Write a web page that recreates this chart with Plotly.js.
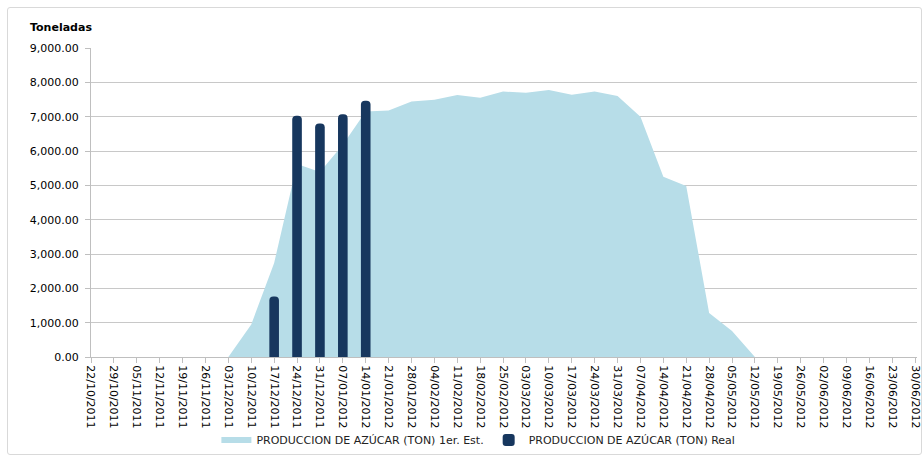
<!DOCTYPE html>
<html>
<head>
<meta charset="utf-8">
<script src="https://cdn.plot.ly/plotly-3.0.1.min.js"></script>
<style>
  html, body { margin: 0; padding: 0; background: #fff; }
  #wrap { position: relative; width: 924px; height: 457px; }
  #chart { width: 924px; height: 457px; }
  #frame { position: absolute; left: 7px; top: 7px; width: 913px; height: 446px;
           border: 1px solid #d9d9d9; border-radius: 3px; pointer-events: none; }
</style>
</head>
<body>
<div id="wrap">
  <div id="chart"></div>
  <div id="frame"></div>
</div>
<script>
const fechas = [
  "22/10/2011","29/10/2011","05/11/2011","12/11/2011","19/11/2011","26/11/2011",
  "03/12/2011","10/12/2011","17/12/2011","24/12/2011","31/12/2011","07/01/2012",
  "14/01/2012","21/01/2012","28/01/2012","04/02/2012","11/02/2012","18/02/2012",
  "25/02/2012","03/03/2012","10/03/2012","17/03/2012","24/03/2012","31/03/2012",
  "07/04/2012","14/04/2012","21/04/2012","28/04/2012","05/05/2012","12/05/2012",
  "19/05/2012","26/05/2012","02/06/2012","09/06/2012","16/06/2012","23/06/2012",
  "30/06/2012"
];

const estimado = [
  0, 0, 0, 0, 0, 0,
  0, 950, 2740, 5620, 5390, 6180,
  7150, 7180, 7440, 7490, 7630, 7550,
  7730, 7700, 7780, 7640, 7730, 7600,
  7000, 5250, 4980, 1280, 760, 0,
  0, 0, 0, 0, 0, 0,
  0
];

const real = [
  null, null, null, null, null, null,
  null, null, 1760, 7030, 6800, 7070,
  7460, null, null, null, null, null,
  null, null, null, null, null, null,
  null, null, null, null, null, null,
  null, null, null, null, null, null,
  null
];

const yTicks = [0, 1000, 2000, 3000, 4000, 5000, 6000, 7000, 8000, 9000];
const yTickText = ["0.00","1,000.00","2,000.00","3,000.00","4,000.00","5,000.00","6,000.00","7,000.00","8,000.00","9,000.00"];

const font = "DejaVu Sans, Verdana, sans-serif";

const traces = [
  {
    type: "scatter",
    x: fechas,
    y: estimado,
    xaxis: "x", yaxis: "y",
    mode: "none",
    fill: "tozeroy",
    fillcolor: "#b7dde8",
    name: "PRODUCCION DE AZÚCAR (TON) 1er. Est."
  },
  {
    type: "bar",
    x: fechas,
    y: real,
    xaxis: "x2", yaxis: "y2",
    width: 0.42,
    marker: { color: "#17375e", cornerradius: 5, line: { width: 0 } },
    name: "PRODUCCION DE AZÚCAR (TON) Real"
  }
];

const xRange = [0, 36.08];
const yRange = [0, 9000];

const layout = {
  width: 924,
  height: 457,
  margin: { l: 91, r: 7, t: 48, b: 100, autoexpand: false },
  paper_bgcolor: "rgba(0,0,0,0)",
  plot_bgcolor: "#ffffff",
  font: { family: font, size: 11, color: "#000000" },
  showlegend: true,
  legend: {
    orientation: "h",
    x: 0.469, xanchor: "center",
    y: -0.2686, yanchor: "middle",
    bgcolor: "rgba(0,0,0,0)",
    font: { family: font, size: 11, color: "#222" },
    traceorder: "normal",
    itemwidth: 30
  },
  xaxis: {
    type: "category",
    categoryarray: fechas,
    range: xRange,
    automargin: false,
    tickangle: 90,
    tickfont: { family: font, size: 11, color: "#000" },
    showgrid: false,
    showline: true,
    linecolor: "#bfbfbf",
    linewidth: 1,
    ticks: "outside",
    ticklen: 5,
    tickcolor: "#bfbfbf",
    zeroline: false,
    fixedrange: true
  },
  yaxis: {
    range: yRange,
    automargin: false,
    tickvals: yTicks,
    ticktext: yTickText,
    tickfont: { family: font, size: 11, color: "#000" },
    ticklabelstandoff: 4,
    showgrid: true,
    gridcolor: "#c8c8c8",
    gridwidth: 1,
    showline: true,
    linecolor: "#bfbfbf",
    linewidth: 1,
    ticks: "outside",
    ticklen: 5,
    tickcolor: "#bfbfbf",
    zeroline: false,
    fixedrange: true
  },
  xaxis2: {
    type: "category",
    categoryarray: fechas,
    overlaying: "x",
    range: xRange,
    visible: false,
    fixedrange: true
  },
  yaxis2: {
    overlaying: "y",
    range: yRange,
    visible: false,
    fixedrange: true
  },
  annotations: [
    {
      text: "<b>Toneladas</b>",
      xref: "paper", yref: "paper",
      x: (28 - 91) / (924 - 91 - 7), y: 1.065,
      xanchor: "left", yanchor: "middle",
      showarrow: false,
      font: { family: font, size: 11, color: "#000" }
    }
  ]
};

Plotly.newPlot("chart", traces, layout, { displayModeBar: false, staticPlot: true });
</script>
</body>
</html>
